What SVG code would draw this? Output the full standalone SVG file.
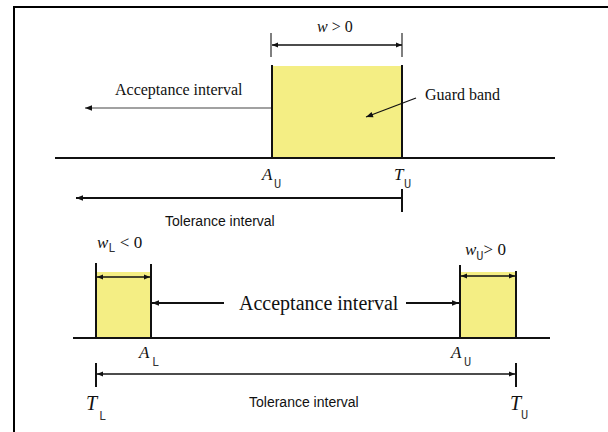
<svg xmlns="http://www.w3.org/2000/svg" width="608" height="432" viewBox="0 0 608 432">
<style>
.serif{font-family:"Liberation Serif","Times New Roman",serif;fill:#111}
.it{font-style:italic}
.sub{font-family:"Liberation Mono","Courier New",monospace;fill:#333}
.sans{font-family:"Liberation Sans",Arial,sans-serif;fill:#111}
.band{fill:#f4ee84;stroke:none}
.edge{stroke:#111;stroke-width:2;fill:none}
.thin{stroke:#444;stroke-width:1.2;fill:none}
</style>
<defs>
<marker id="ah" viewBox="0 0 10 10" refX="10" refY="5" markerWidth="10" markerHeight="7" orient="auto-start-reverse" markerUnits="userSpaceOnUse">
<path d="M0,1 L10,5 L0,9 Z" fill="#111"/>
</marker>
<marker id="ahs" viewBox="0 0 10 10" refX="10" refY="5" markerWidth="8" markerHeight="6" orient="auto-start-reverse" markerUnits="userSpaceOnUse">
<path d="M0,1 L10,5 L0,9 Z" fill="#111"/>
</marker>
</defs>
<rect width="608" height="432" fill="#fff"/>
<g id="frame">
<line x1="13" y1="7" x2="608" y2="7" stroke="#000" stroke-width="2"/>
<line x1="14" y1="6" x2="14" y2="432" stroke="#000" stroke-width="2"/>
</g>

<g id="top-guard-band">
<rect class="band" x="272" y="66" width="130" height="92"/>
<line class="edge" x1="272" y1="65" x2="272" y2="158"/>
<line class="edge" x1="402" y1="65" x2="402" y2="158"/>
<text class="serif" x="425" y="100" font-size="16">Guard band</text>
</g>
<g id="top-dimension">
<line x1="271" y1="33" x2="271" y2="57" stroke="#555" stroke-width="1.5"/>
<line x1="402" y1="33" x2="402" y2="57" stroke="#555" stroke-width="1.5"/>
<text class="serif" x="317" y="32" font-size="16"><tspan class="it">w</tspan> &gt; 0</text>
</g>
<g id="top-acceptance">
<text class="serif" x="115" y="95" font-size="16">Acceptance interval</text>
</g>
<g id="top-axis">
<line class="edge" x1="55" y1="158" x2="555" y2="158"/>
<text class="serif it" x="262" y="180" font-size="17">A</text>
<text class="sub" x="274" y="188" font-size="12">U</text>
<text class="serif it" x="394" y="180" font-size="17">T</text>
<text class="sub" x="404" y="188" font-size="12">U</text>
<line class="edge" x1="402" y1="189" x2="402" y2="212"/>
</g>
<g id="top-tolerance">
<text class="sans" x="165" y="226" font-size="14">Tolerance interval</text>
</g>

<g id="lower-left-band">
<rect class="band" x="96" y="272" width="55" height="66"/>
<line class="edge" x1="96" y1="263" x2="96" y2="339"/>
<line class="edge" x1="151" y1="264" x2="151" y2="339"/>
<text class="serif" x="97" y="248" font-size="17"><tspan class="it">w</tspan><tspan class="sub" font-size="12" dy="4">L</tspan><tspan dy="-4"> &lt; 0</tspan></text>
</g>
<g id="lower-right-band">
<rect class="band" x="460" y="272" width="56" height="66"/>
<line class="edge" x1="460" y1="265" x2="460" y2="339"/>
<line class="edge" x1="516" y1="271" x2="516" y2="339"/>
<text class="serif" x="465" y="255" font-size="17"><tspan class="it">w</tspan><tspan class="sub" font-size="12" dy="5">U</tspan><tspan dy="-5">&gt; 0</tspan></text>
</g>
<g id="lower-acceptance">
<text class="serif" x="239" y="310" font-size="20">Acceptance interval</text>
</g>
<g id="lower-axis">
<line class="edge" x1="73" y1="338" x2="550" y2="338"/>
<text class="serif it" x="139" y="358" font-size="17">A</text>
<text class="sub" x="152" y="366" font-size="12">L</text>
<text class="serif it" x="451" y="358" font-size="17">A</text>
<text class="sub" x="464" y="366" font-size="12">U</text>
<line class="edge" x1="96" y1="363" x2="96" y2="387"/>
<line class="edge" x1="516" y1="363" x2="516" y2="387"/>
<text class="serif it" x="86" y="410" font-size="20">T</text>
<text class="sub" x="99" y="420" font-size="12">L</text>
<text class="serif it" x="510" y="410" font-size="20">T</text>
<text class="sub" x="521" y="419" font-size="12">U</text>
</g>
<g id="lower-tolerance">
<text class="sans" x="249" y="407" font-size="14">Tolerance interval</text>
</g>

<g id="connectors">
<line x1="272" y1="45" x2="402" y2="45" stroke="#111" stroke-width="1.5" marker-start="url(#ahs)" marker-end="url(#ahs)"/>
<line class="thin" x1="271" y1="108" x2="85" y2="108" marker-end="url(#ah)"/>
<line x1="416" y1="98" x2="366" y2="117" stroke="#111" stroke-width="1.3" marker-end="url(#ah)"/>
<line x1="402" y1="198" x2="76" y2="198" stroke="#111" stroke-width="2" marker-end="url(#ah)"/>
<line x1="97" y1="277" x2="150" y2="277" stroke="#111" stroke-width="1.5" marker-start="url(#ahs)" marker-end="url(#ahs)"/>
<line x1="461" y1="276" x2="515" y2="276" stroke="#111" stroke-width="1.5" marker-start="url(#ahs)" marker-end="url(#ahs)"/>
<line x1="224" y1="303" x2="152" y2="303" stroke="#111" stroke-width="2" marker-end="url(#ah)"/>
<line x1="406" y1="303" x2="459" y2="303" stroke="#111" stroke-width="2" marker-end="url(#ah)"/>
<line x1="97" y1="374" x2="515" y2="374" stroke="#111" stroke-width="1.5" marker-start="url(#ahs)" marker-end="url(#ahs)"/>
</g>
</svg>
